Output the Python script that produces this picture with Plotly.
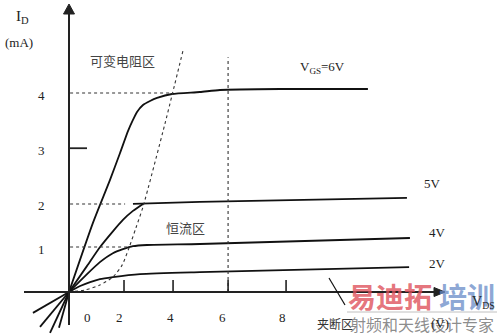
import plotly.graph_objects as go

# ---- data (diagram units: V_DS in V, I_D in mA) ----
VDS_6V = [0, 0.89, 1.51, 1.88, 2.18, 2.36, 2.51, 2.73, 2.99, 3.25, 3.80, 4.83, 5.57, 7.79, 11.03]
ID_6V = [0, 1.40, 2.25, 2.79, 3.24, 3.46, 3.62, 3.76, 3.84, 3.90, 3.98, 4.02, 4.06, 4.08, 4.08]

VDS_5V = [0, 0.66, 1.14, 1.62, 1.99, 2.36, 2.73]
ID_5V = [0, 0.52, 0.90, 1.22, 1.45, 1.63, 1.77]
VDS_5V_SAT = [2.36, 4.83, 12.47]
ID_5V_SAT = [1.77, 1.81, 1.89]

VDS_4V = [0, 0.59, 1.14, 1.62, 1.99, 2.36, 2.88, 4.83, 12.58]
ID_4V = [0, 0.32, 0.60, 0.78, 0.86, 0.92, 0.945, 0.965, 1.085]

VDS_2V = [0, 0.41, 0.78, 1.14, 1.62, 2.62, 4.83, 12.55]
ID_2V = [0, 0.12, 0.20, 0.26, 0.30, 0.36, 0.40, 0.50]

# reverse-region lines (end points, each from the origin)
NEG_VDS = [-1.33, -1.07, -0.70, -0.37]
NEG_ID = [-0.42, -0.70, -0.82, -0.72]

# pinch-off boundary (dotted)
PINCH_VDS = [0, 0.59, 1.14, 1.62, 1.96, 2.21, 2.47, 2.73, 3.54, 4.21]
PINCH_ID = [0, 0.04, 0.14, 0.30, 0.54, 0.88, 1.29, 1.71, 3.38, 4.86]

# guide levels
GUIDE_ID = [4.00, 1.77, 0.905]
GUIDE_END = [3.80, 2.07, 2.18]
GUIDE_VDS = 5.87
GUIDE_VDS_TOP = 4.72

# ticks
XTICK_POS = [2.03, 3.84, 5.87, 8.01]
XLABEL_POS = [0.70, 1.85, 3.73, 5.68, 7.86]
XLABEL_TEXT = ["0", "2", "4", "6", "8"]
YTICK_POS = [0.90, 1.77, 2.89, 4.00]
YTICK_TEXT = ["1", "2", "3", "4"]
Y3_TICK = 2.89

# ---- figure ----
XR = [-69 / 27.1, 431 / 27.1]
YR = [-43 / 49.75, 292 / 49.75]
PXX = 1 / 27.1
PXY = 1 / 49.75

fig = go.Figure()
solid = dict(color="#111111", width=1.8, shape="spline", smoothing=0.6)

for xs, ys in [(VDS_6V, ID_6V), (VDS_5V, ID_5V), (VDS_5V_SAT, ID_5V_SAT),
               (VDS_4V, ID_4V), (VDS_2V, ID_2V)]:
    fig.add_trace(go.Scatter(x=xs, y=ys, mode="lines", line=solid, hoverinfo="skip"))

for nx, ny in zip(NEG_VDS, NEG_ID):
    fig.add_trace(go.Scatter(x=[0, nx], y=[0, ny], mode="lines",
                             line=dict(color="#111111", width=1.8), hoverinfo="skip"))

fig.add_trace(go.Scatter(x=PINCH_VDS, y=PINCH_ID, mode="lines",
                         line=dict(color="#333333", width=1.1, dash="dot",
                                   shape="spline", smoothing=0.6), hoverinfo="skip"))

for gy, ge in zip(GUIDE_ID, GUIDE_END):
    fig.add_trace(go.Scatter(x=[0.04, ge], y=[gy, gy], mode="lines",
                             line=dict(color="#333333", width=1.1, dash="dot"), hoverinfo="skip"))
fig.add_trace(go.Scatter(x=[GUIDE_VDS, GUIDE_VDS], y=[0, GUIDE_VDS_TOP], mode="lines",
                         line=dict(color="#333333", width=1.1, dash="dot"), hoverinfo="skip"))

shapes = []
axc = "#222222"
# y axis + arrow
shapes.append(dict(type="line", x0=0, x1=0, y0=-33 * PXY, y1=278 * PXY, line=dict(color=axc, width=2)))
shapes.append(dict(type="path", path=f"M {-5.5*PXX},{278*PXY} L {5.5*PXX},{278*PXY} L 0,{288*PXY} Z",
                   fillcolor=axc, line=dict(color=axc, width=1)))
# x axis + arrow
shapes.append(dict(type="line", x0=-45 * PXX, x1=367 * PXX, y0=0, y1=0, line=dict(color=axc, width=2)))
shapes.append(dict(type="path", path=f"M {365*PXX},{-4.5*PXY} L {365*PXX},{4.5*PXY} L {376*PXX},0 Z",
                   fillcolor=axc, line=dict(color=axc, width=1)))
# x ticks
for tx in XTICK_POS:
    shapes.append(dict(type="line", x0=tx, x1=tx, y0=0, y1=12 * PXY, line=dict(color=axc, width=1.6)))
# y tick at 3
shapes.append(dict(type="line", x0=0, x1=18 * PXX, y0=Y3_TICK, y1=Y3_TICK, line=dict(color=axc, width=1.8)))
# pinch-off pointer
shapes.append(dict(type="line", x0=260 * PXX, y0=14 * PXY, x1=276 * PXX, y1=-13 * PXY,
                   line=dict(color="#111111", width=1.2)))
# watermark underline
shapes.append(dict(type="line", x0=278 * PXX, x1=428 * PXX, y0=-20 * PXY, y1=-20 * PXY,
                   line=dict(color="rgba(150,150,150,0.6)", width=1)))

serif = "Liberation Serif, Times New Roman, serif"
cjk = "Noto Sans CJK SC"
ann = []


def txt(x, y, s, size=13, family=serif, color="#222222", **kw):
    ann.append(dict(x=x, y=y, xref="x", yref="y", text=s, showarrow=False,
                    xanchor="center", yanchor="middle",
                    font=dict(family=family, size=size, color=color), **kw))


for xv, t in zip(XLABEL_POS, XLABEL_TEXT):
    txt(xv, -25 * PXY, t, size=13)
for yv, t in zip(YTICK_POS, YTICK_TEXT):
    txt(-28 * PXX, yv, t, size=13, yshift=-2)

txt(-47 * PXX, 275 * PXY, "I<sub>D</sub>", size=15)
txt(-50 * PXX, 250 * PXY, "(mA)", size=13)
txt(53 * PXX, 232 * PXY, "可变电阻区", size=13, family=cjk, color="#444444")
txt(116 * PXX, 65 * PXY, "恒流区", size=13, family=cjk, color="#444444")
txt(253 * PXX, 225 * PXY, "V<sub>GS</sub>=6V", size=13)
txt(363 * PXX, 109 * PXY, "5V", size=13)
txt(368 * PXX, 60 * PXY, "4V", size=13)
txt(368 * PXX, 29 * PXY, "2V", size=13)
txt(266 * PXX, -31 * PXY, "夹断区", size=12, family=cjk, color="#333333")
# watermark
txt(321 * PXX, -4 * PXY, "<b>易迪拓</b>", size=28, family=cjk, color="rgba(222,80,90,0.8)")
txt(398 * PXX, -4 * PXY, "<b>培训</b>", size=28, family=cjk, color="rgba(105,140,200,0.75)")
txt(353 * PXX, -32 * PXY, "射频和天线设计专家", size=16, family=cjk, color="rgba(120,120,120,0.85)")
txt(371 * PXX, -31 * PXY, "(V)", size=13)
txt(414 * PXX, -10 * PXY, "V<sub>DS</sub>", size=14)

fig.update_layout(
    width=500, height=335, margin=dict(l=0, r=0, t=0, b=0),
    paper_bgcolor="white", plot_bgcolor="white", showlegend=False,
    xaxis=dict(range=XR, visible=False, fixedrange=True),
    yaxis=dict(range=YR, visible=False, fixedrange=True),
    shapes=shapes, annotations=ann,
)
fig.write_html("out.html")
